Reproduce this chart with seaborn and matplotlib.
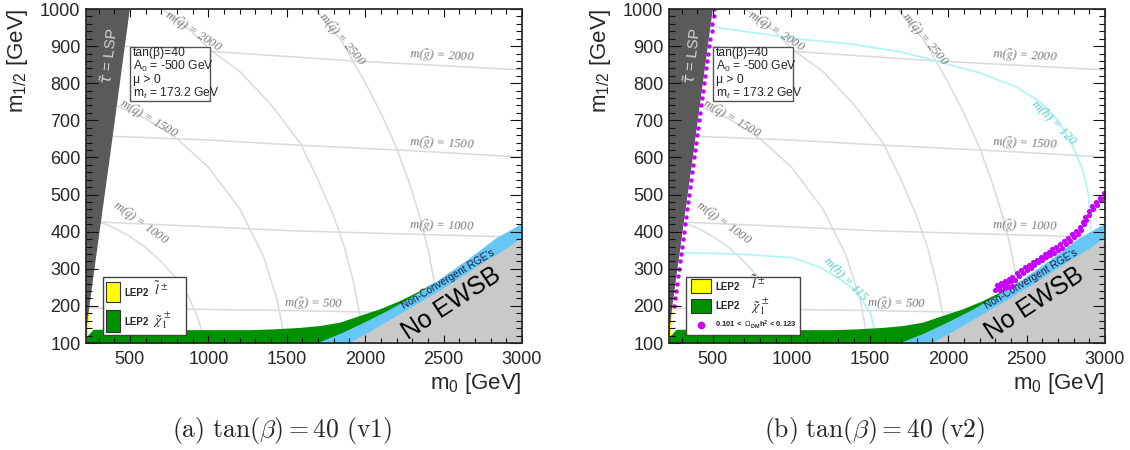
import matplotlib
matplotlib.use('Agg')
import matplotlib.pyplot as plt
import seaborn as sns
from matplotlib.patches import Rectangle
from matplotlib.ticker import MultipleLocator, FixedLocator

sns.set_theme(style='ticks')
plt.rcParams['font.family'] = ['Liberation Sans', 'DejaVu Sans']
plt.rcParams['mathtext.fontset'] = 'custom'
plt.rcParams['mathtext.rm'] = 'Liberation Sans'
plt.rcParams['mathtext.it'] = 'Liberation Sans:italic'
plt.rcParams['mathtext.bf'] = 'Liberation Sans:bold'

# ---------------- data (m0, m1/2 in GeV) ----------------
x_ticks = [500, 1000, 1500, 2000, 2500, 3000]
y_ticks = [100, 200, 300, 400, 500, 600, 700, 800, 900, 1000]

stau_m12 = [100, 140, 200, 394, 574, 1000]
stau_m0 = [220, 220, 238, 301, 360, 496]

slep_m12 = [118, 135, 170, 205]
slep_m0 = [228, 231, 236, 242]

green_m0 = [220, 233, 265, 330, 858, 1266, 1411, 1581, 1708, 1836, 1963, 2091, 2218, 2346, 2440]
green_top = [118, 122, 137, 137, 136, 136, 138, 142, 147, 156, 174, 192, 214, 241, 264]

blue_m0 = [1687, 1850, 2000, 2150, 2300, 2450, 2647, 2828, 2903, 3000]
blue_top = [100, 128, 158, 190, 226, 266, 324, 382, 400, 423]

grey_m0 = [1890, 2000, 2150, 2329, 2541, 2752, 2900, 3000]
grey_top = [100, 125, 162, 206, 260, 318, 356, 386]

# gluino mass contours
gl_2000_m0 = [220, 1011, 1921, 3000]
gl_2000_m12 = [905, 886, 860, 836]
gl_1500_m0 = [220, 379, 1000, 1581, 2300, 3000]
gl_1500_m12 = [662, 657, 647, 633, 618, 601]
gl_1000_m0 = [220, 305, 900, 1496, 2300, 3000]
gl_1000_m12 = [428, 426, 415, 403, 393, 385]
gl_500_m0 = [220, 265, 1266, 1967, 2300]
gl_500_m12 = [196, 194, 189, 184, 180]

# squark mass contours
sq_1000_m0 = [230, 300, 400, 500, 600, 700, 800, 870, 920, 950, 968, 975]
sq_1000_m12 = [435, 427, 410, 387, 358, 319, 272, 228, 182, 145, 115, 99]
sq_1500_m0 = [400, 600, 800, 1000, 1200, 1350, 1440, 1480, 1492]
sq_1500_m12 = [742, 705, 651, 574, 462, 335, 215, 125, 90]
sq_2000_m0 = [707, 900, 1011, 1200, 1400, 1585, 1700, 1800, 1870, 1930, 1965, 1990]
sq_2000_m12 = [1000, 937, 890, 832, 742, 639, 540, 441, 355, 256, 178, 100]
sq_2500_m0 = [1680, 1846, 2000, 2100, 2200, 2280, 2350, 2400, 2450, 2480, 2495]
sq_2500_m12 = [1000, 916, 802, 720, 626, 533, 438, 354, 243, 152, 100]

# light higgs mass contours (v2)
mh120_m0 = [492, 1070, 1374, 1693, 1898, 2200, 2430, 2580, 2700, 2790, 2855, 2893, 2905, 2908]
mh120_m12 = [952, 918, 906, 885, 863, 828, 791, 752, 700, 635, 570, 505, 450, 405]
mh115_m0 = [220, 290, 645, 1010, 1177, 1300, 1400, 1453, 1505, 1525, 1530]
mh115_m12 = [344, 343, 340, 330, 305, 275, 245, 214, 181, 144, 120]

# relic density points (v2)
coann_m12 = [1000, 980, 960, 940, 920, 900, 880, 860, 840, 820, 800, 780, 760, 740,
             720, 700, 680, 660, 640, 620, 600, 580, 560, 540, 520, 500, 480, 460,
             440, 420, 400, 380, 360, 340, 320, 300, 280, 260, 240, 220, 200]
coann_m0 = [510, 504, 497, 491, 484, 478, 471, 465, 458, 452, 446, 439, 433, 426,
            420, 413, 407, 400, 394, 388, 381, 375, 368, 362, 355, 349, 343, 336,
            330, 323, 317, 310, 304, 298, 291, 285, 278, 272, 265, 259, 253]
focus_m0 = [2300, 2325, 2350, 2375, 2400, 2425, 2450, 2475, 2500, 2525, 2550, 2575,
            2600, 2625, 2650, 2675, 2700, 2725, 2750, 2775, 2800, 2825, 2850, 2865,
            2880, 2900, 2925, 2950, 2975, 3000,
            2310, 2335, 2360, 2385, 2410, 2440, 2465, 2490, 2515, 2540, 2565, 2590,
            2615, 2640, 2665, 2690, 2715, 2740, 2765, 2790, 2815, 2840, 2860, 2875,
            2895, 2920, 2945, 2970, 2995,
            2330, 2360, 2390, 2410]
focus_m12 = [244, 250, 256, 261, 266, 270, 280, 288, 296, 303, 310, 317,
             324, 331, 337, 343, 350, 357, 366, 375, 385, 395, 405, 420,
             432, 445, 460, 472, 484, 494,
             256, 262, 267, 272, 277, 288, 296, 304, 311, 318, 325, 332,
             339, 345, 352, 359, 366, 374, 383, 393, 403, 413, 425, 440,
             455, 468, 480, 492, 503,
             243, 247, 251, 254]

gl_labels = [("2000", 2490, 871, -3), ("1500", 2488, 636, -2.5),
             ("1000", 2488, 413, -1.5), ("500", 1672, 205, -1)]
sq_labels = [("2000", 900, 937, -33), ("2500", 1846, 916, -50),
             ("1500", 617, 704, -30), ("1000", 564, 421, -36)]
info_lines = ["tan(\u03b2)=40", r"A$_{0}$ = -500 GeV", "\u03bc > 0", r"m$_{t}$ = 173.2 GeV"]

C_STAU = '#5a5a5a'
C_GREY = '#c9c9c9'
C_BLUE = '#66c6f5'
C_GREEN = '#009100'
C_YELLOW = '#ffff00'
C_MAG = '#c800ff'
C_CONT = '#dadada'
C_CYAN = '#b4f4f4'

fig = plt.figure(figsize=(11.3, 4.5), dpi=100)
rects = [[86/1130, 107/450, 436/1130, 334/450], [669/1130, 107/450, 436/1130, 334/450]]
axes = [fig.add_axes(r) for r in rects]


def line(ax, xs, ys, color, lw=1.1, z=1.1):
    sns.lineplot(x=xs, y=ys, sort=False, estimator=None, color=color, lw=lw, ax=ax, zorder=z)


def panel(ax, v2):
    for xs, ys in [(gl_2000_m0, gl_2000_m12), (gl_1500_m0, gl_1500_m12),
                   (gl_1000_m0, gl_1000_m12), (gl_500_m0, gl_500_m12),
                   (sq_1000_m0, sq_1000_m12), (sq_1500_m0, sq_1500_m12),
                   (sq_2000_m0, sq_2000_m12), (sq_2500_m0, sq_2500_m12)]:
        line(ax, xs, ys, C_CONT)
    if v2:
        line(ax, mh120_m0, mh120_m12, C_CYAN, lw=1.3, z=1.2)
        line(ax, mh115_m0, mh115_m12, C_CYAN, lw=1.3, z=1.2)
    ax.fill_between(green_m0, 100, green_top, color=C_GREEN, lw=0, zorder=1.5)
    ax.fill_between(blue_m0, 100, blue_top, color=C_BLUE, lw=0, zorder=1.6)
    ax.fill_between(grey_m0, 100, grey_top, color=C_GREY, lw=0, zorder=1.7)
    ax.fill_betweenx(slep_m12, 220, slep_m0, color=C_YELLOW, lw=0, zorder=1.75)
    ax.fill_betweenx(stau_m12, 200, stau_m0, color=C_STAU, lw=0, zorder=1.8)

    for t, x, y, r in gl_labels:
        ax.text(x, y, r"m($\tilde{g}$) = " + t, family='Liberation Serif', style='italic',
                math_fontfamily='stix', fontsize=9, color='#7a7a7a', rotation=r,
                ha='center', va='center', zorder=3, rotation_mode='anchor')
    for t, x, y, r in sq_labels:
        ax.text(x, y, r"m($\tilde{q}$) = " + t, family='Liberation Serif', style='italic',
                math_fontfamily='stix', fontsize=9, color='#7a7a7a', rotation=r,
                ha='center', va='center', zorder=3, rotation_mode='anchor')
    if v2:
        ax.text(2675, 696, "m(h) = 120", family='Liberation Serif', style='italic',
                fontsize=9, color='#55cccc', rotation=-45, ha='center', va='center',
                zorder=3, rotation_mode='anchor')
        ax.text(1350, 272, "m(h) = 115", family='Liberation Serif', style='italic',
                fontsize=9, color='#55cccc', rotation=-45, ha='center', va='center',
                zorder=3, rotation_mode='anchor')

    ax.text(373, 874, r"$\tilde{\tau}$ = LSP", fontsize=11, color='#d4d4d4', rotation=84,
            ha='center', va='center', math_fontfamily='dejavusans', zorder=3,
            rotation_mode='anchor')
    ax.text(2552, 207, "No EWSB", fontsize=18, color='black', rotation=33,
            ha='center', va='center', zorder=3, rotation_mode='anchor')
    ax.text(2531, 272, "Non-Convergent RGE's", fontsize=7.3, color='#102040', rotation=31,
            ha='center', va='center', zorder=3, rotation_mode='anchor')

    if v2:
        sns.scatterplot(x=coann_m0, y=coann_m12, color=C_MAG, s=10, linewidth=0,
                        ax=ax, zorder=4)
        sns.scatterplot(x=focus_m0, y=focus_m12, color=C_MAG, s=14, linewidth=0,
                        ax=ax, zorder=4)

    # info box
    tr = ax.transAxes
    ax.add_patch(Rectangle((0.1009, 0.7246), 0.1835, 0.1624, transform=tr, fc='white',
                           ec='#555555', lw=1.0, zorder=5))
    for yy, s in zip([0.868, 0.828, 0.786, 0.746], info_lines):
        ax.text(0.1070, yy, s, transform=tr, fontsize=8.7, ha='left', va='center', zorder=6)

    # legend box
    if not v2:
        ax.add_patch(Rectangle((0.0397, 0.024), 0.189, 0.1745, transform=tr, fc='white',
                               ec='#444444', lw=1.0, zorder=5))
        ax.add_patch(Rectangle((0.0459, 0.1237), 0.0328, 0.0598, transform=tr, fc=C_YELLOW,
                               ec='#333333', lw=0.8, zorder=6))
        ax.add_patch(Rectangle((0.0459, 0.0338), 0.0328, 0.0650, transform=tr, fc=C_GREEN,
                               ec='#333333', lw=0.8, zorder=6))
        ax.text(0.0878, 0.1494, "LEP2", transform=tr, fontsize=7, weight='bold', va='center', zorder=6)
        ax.text(0.0878, 0.0638, "LEP2", transform=tr, fontsize=7, weight='bold', va='center', zorder=6)
        ax.text(0.157, 0.160, r"$\tilde{l}^{\,\pm}$", transform=tr, fontsize=10,
                math_fontfamily='stix', va='center', zorder=6)
        ax.text(0.154, 0.066, r"$\tilde{\chi}^{\,\pm}_{1}$", transform=tr, fontsize=10,
                math_fontfamily='stix', va='center', zorder=6)
    else:
        ax.add_patch(Rectangle((0.0397, 0.024), 0.2608, 0.1745, transform=tr, fc='white',
                               ec='#444444', lw=1.0, zorder=5))
        ax.add_patch(Rectangle((0.0498, 0.1488), 0.0458, 0.0419, transform=tr, fc=C_YELLOW,
                               ec='#333333', lw=0.8, zorder=6))
        ax.add_patch(Rectangle((0.0498, 0.0889), 0.0458, 0.0428, transform=tr, fc=C_GREEN,
                               ec='#333333', lw=0.8, zorder=6))
        ax.scatter([0.0727], [0.0539], transform=tr, s=30, color=C_MAG, lw=0, zorder=6)
        ax.text(0.1055, 0.1686, "LEP2", transform=tr, fontsize=7, weight='bold', va='center', zorder=6)
        ax.text(0.1055, 0.1108, "LEP2", transform=tr, fontsize=7, weight='bold', va='center', zorder=6)
        ax.text(0.187, 0.178, r"$\tilde{l}^{\,\pm}$", transform=tr, fontsize=10,
                math_fontfamily='stix', va='center', zorder=6)
        ax.text(0.187, 0.110, r"$\tilde{\chi}^{\,\pm}_{1}$", transform=tr, fontsize=10,
                math_fontfamily='stix', va='center', zorder=6)
        ax.text(0.1055, 0.0539, r"0.101 <  $\Omega_{\mathbf{DM}}$h$^{\mathbf{2}}$ < 0.123",
                transform=tr, fontsize=5.5, weight='bold', va='center', zorder=6)

    ax.set_xlim(220, 3000)
    ax.set_ylim(100, 1000)
    ax.tick_params(axis='both', which='both', bottom=False, left=False, top=False,
                   right=False, labelbottom=False, labelleft=False)
    for sp in ax.spines.values():
        sp.set_visible(False)


def frame(r):
    # transparent overlay axes that carries the ticks, tick labels and frame
    ov = fig.add_axes(r)
    ov.set_zorder(10)
    ov.patch.set_alpha(0)
    ov.set_xlim(220, 3000)
    ov.set_ylim(100, 1000)
    ov.xaxis.set_major_locator(FixedLocator(x_ticks))
    ov.yaxis.set_major_locator(FixedLocator(y_ticks))
    ov.xaxis.set_minor_locator(MultipleLocator(100))
    ov.yaxis.set_minor_locator(MultipleLocator(20))
    ov.tick_params(axis='both', which='both', direction='in', top=True, right=True,
                   bottom=True, left=True, labelsize=13, color='#111111', width=0.8)
    ov.tick_params(axis='x', which='major', length=6, pad=6)
    ov.tick_params(axis='y', which='major', length=8.5, pad=4)
    ov.tick_params(axis='x', which='minor', length=3.3)
    ov.tick_params(axis='y', which='minor', length=4.3)
    return ov


panel(axes[0], False)
panel(axes[1], True)
overlays = [frame(r) for r in rects]

for x0, xr in [(17.5, 522), (600.5, 1105)]:
    fig.text(x0/1130, 1 - 8/450, r"m$_{1/2}$ [GeV]", rotation=90, ha='center', va='top', fontsize=16)
    fig.text(xr/1130, 1 - 383/450, r"m$_{0}$ [GeV]", ha='right', va='center', fontsize=16)
for xc, cap in [(282, r"$\mathrm{(a)}\ \tan(\beta) = 40\ \mathrm{(v1)}$"),
                (875, r"$\mathrm{(b)}\ \tan(\beta) = 40\ \mathrm{(v2)}$")]:
    fig.text(xc/1130, 1 - 431/450, cap, ha='center', va='center', fontsize=18.5, math_fontfamily='cm')

fig.savefig('out.png', dpi=100)
